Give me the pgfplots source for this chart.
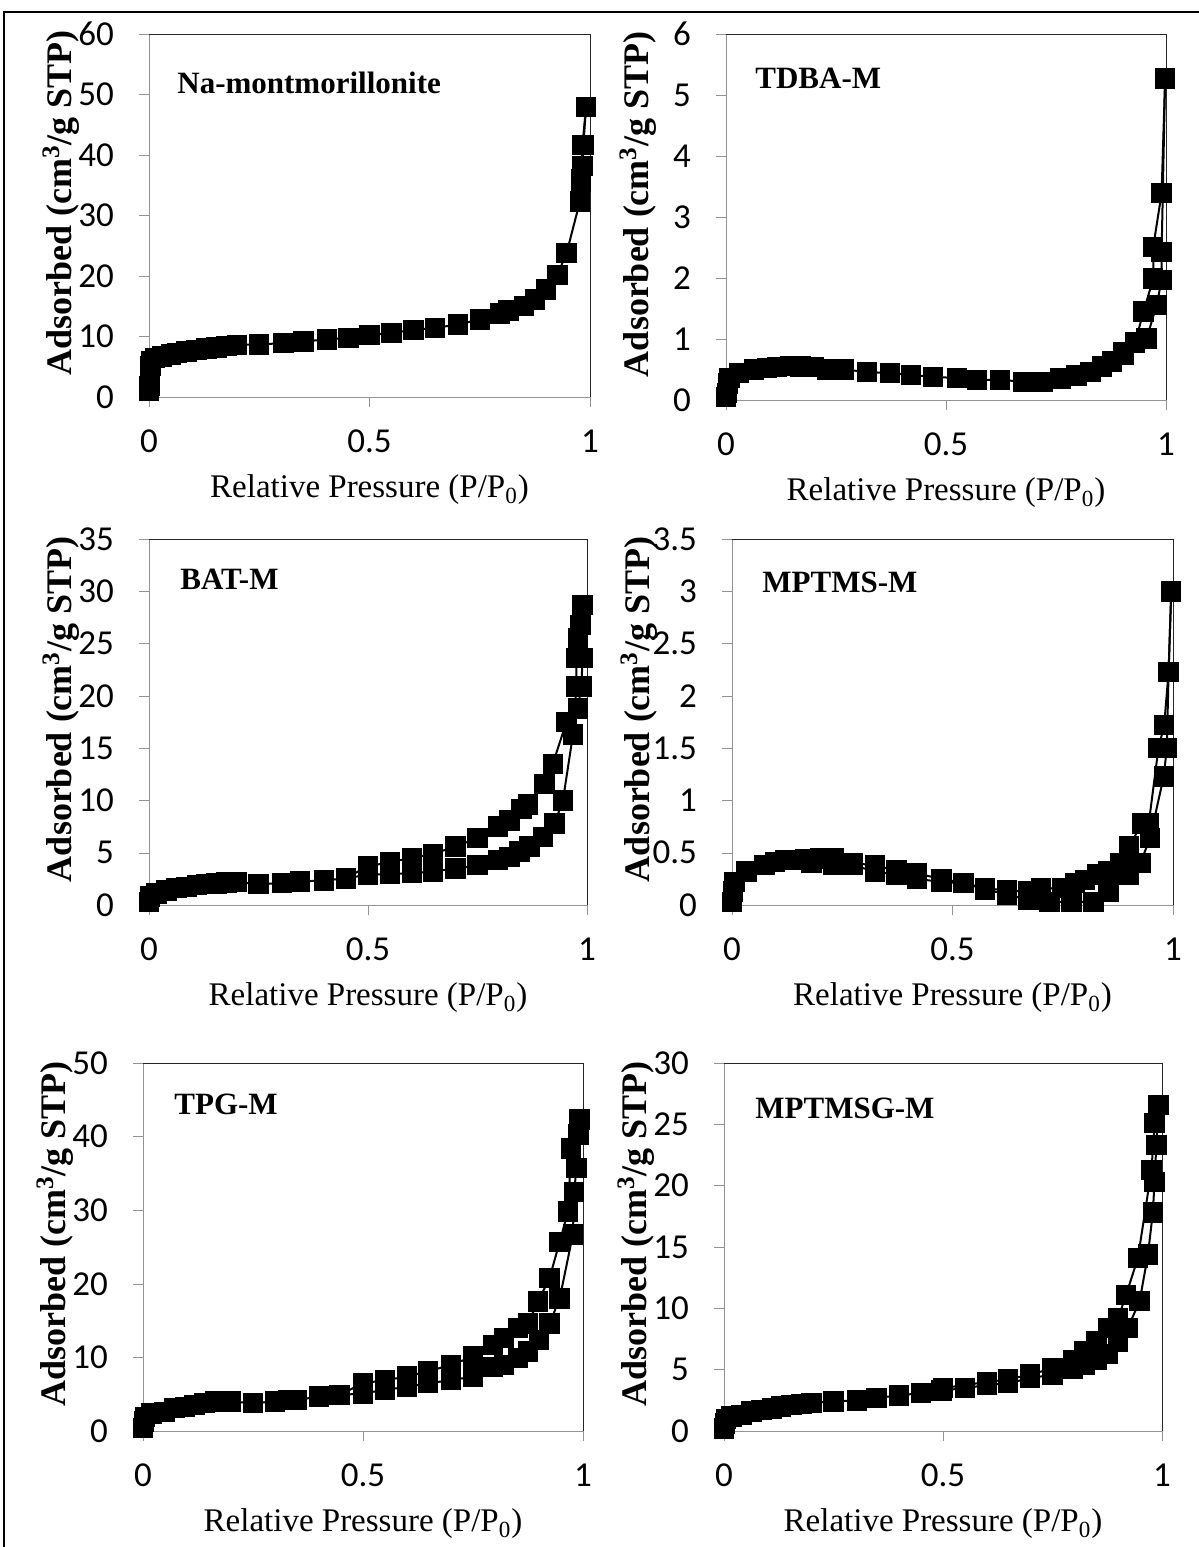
\documentclass[border=0pt]{standalone}
\usepackage{fontspec}
\setmainfont{Liberation Serif}
\newfontfamily\tickfont{Carlito}
\usepackage{pgfplots}
\pgfplotsset{compat=1.18}

\pgfplotsset{
  panel/.style={
    scale only axis,
    xmin=0, xmax=1, ymin=0,
    xtick={0,0.5,1},
    axis line style={draw=gray!85},
    tick style={draw=gray!85},
    tick align=outside,
    major tick length=5pt,
    xtick pos=bottom, ytick pos=left,
    clip=false,
    /pgf/number format/assume math mode=true,
    ticklabel style={font=\tickfont\fontsize{17.5}{20}\selectfont},
    xticklabel style={yshift=-8pt},
    yticklabel style={xshift=-9pt},
    ylabshift/.initial=44pt,
    every axis y label/.style={at={([xshift=-\pgfkeysvalueof{/pgfplots/ylabshift}]rel axis cs:0,0.535)},rotate=90,anchor=center},
    every axis x label/.style={at={([yshift=-46.5pt]rel axis cs:0.5,0)},anchor=center},
    ylabel={\bfseries\fontsize{18}{20}\selectfont Adsorbed (cm\textsuperscript{3}/g STP)},
    xlabel={\fontsize{16.5}{18}\selectfont Relative Pressure (P/P\textsubscript{0})},
    cycle list={black, line width=1pt, mark=square*, mark size=4.6pt, mark options={solid, fill=black}\\},
  },
  frame/.style={execute at end axis={\draw[black!85, line width=0.5pt] (rel axis cs:0,1) -- (rel axis cs:1,1) -- (rel axis cs:1,0);}},
}
\newcommand{\ttl}[1]{\bfseries\fontsize{15.5}{17}\selectfont #1}
\tikzset{ttlnode/.style={anchor=west, inner sep=0pt}}

\begin{document}
\begin{tikzpicture}
\useasboundingbox (0,0) rectangle (599.5pt,-773.5pt);
\draw[line width=1.1pt] (2pt,-780pt) -- (2pt,-5.8pt) -- (605pt,-5.8pt);

% Na-montmorillonite
\begin{axis}[panel, frame, at={(74.5pt,-198.5pt)}, anchor=south west,
  width=220.5pt, height=181.5pt, ymax=60, ytick distance=10]
\addplot coordinates {(0.0,1.0)(0.001,1.8)(0.002,3.4)(0.003,5.1)(0.005,6.0)(0.014,6.4)(0.03,6.7)(0.05,7.0)(0.063,7.3)(0.085,7.5)(0.108,7.8)(0.13,8.0)(0.153,8.2)(0.176,8.4)(0.2,8.6)(0.25,8.7)(0.305,8.9)(0.35,9.2)(0.403,9.5)(0.452,9.8)(0.5,10.2)(0.55,10.6)(0.6,11.1)(0.649,11.4)(0.7,12.0)(0.75,12.8)(0.796,13.8)(0.815,14.3)(0.85,15.0)(0.875,16.1)(0.9,17.8)(0.926,20.2)(0.947,23.8)(0.977,32.3)(0.979,35.6)(0.983,41.7)(0.991,47.9)};
\addplot coordinates {(0.991,47.9)(0.985,41.7)(0.983,38.2)(0.98,36.0)(0.977,32.3)};
\end{axis}
\node[ttlnode] at (88.5pt,-41.5pt) {\ttl{Na-montmorillonite}};

% TDBA-M
\begin{axis}[panel, frame, at={(363pt,-200pt)}, anchor=south west,
  width=220pt, height=183pt, ymax=6, ytick distance=1]
\addplot coordinates {(0,0.05)(0.002,0.11)(0.004,0.27)(0.008,0.36)(0.029,0.44)(0.063,0.50)(0.093,0.52)(0.116,0.54)(0.146,0.56)(0.169,0.55)(0.2,0.54)(0.23,0.50)(0.267,0.50)(0.32,0.46)(0.373,0.44)(0.42,0.41)(0.47,0.38)(0.525,0.36)(0.57,0.33)(0.623,0.33)(0.676,0.30)(0.72,0.30)(0.76,0.35)(0.797,0.40)(0.828,0.46)(0.854,0.55)(0.877,0.63)(0.903,0.74)(0.93,0.93)(0.956,1.01)(0.979,1.56)(0.99,1.97)(0.99,2.43)(0.998,5.27)};
\addplot coordinates {(0.998,5.27)(0.99,3.39)(0.971,2.51)(0.971,1.99)(0.949,1.45)(0.93,0.95)(0.903,0.78)};
\end{axis}
\node[ttlnode] at (377.5pt,-39pt) {\ttl{TDBA-M}};

% BAT-M
\begin{axis}[panel, frame, at={(74.5pt,-452.5pt)}, anchor=south west,
  width=219pt, height=183pt, ymax=35, ytick distance=5]
\addplot coordinates {(0,0.3)(0.002,0.8)(0.017,1.1)(0.04,1.4)(0.063,1.6)(0.086,1.75)(0.109,1.9)(0.13,2.0)(0.154,2.05)(0.177,2.15)(0.2,2.2)(0.25,2.0)(0.303,2.1)(0.345,2.25)(0.4,2.35)(0.45,2.55)(0.5,2.9)(0.55,2.95)(0.6,3.05)(0.649,3.2)(0.7,3.5)(0.75,3.8)(0.797,4.3)(0.823,4.6)(0.846,5.1)(0.869,5.6)(0.9,6.5)(0.926,7.8)(0.945,10.0)(0.968,16.3)(0.976,20.9)(0.976,23.6)(0.98,25.5)(0.985,26.8)(0.99,28.7)};
\addplot coordinates {(0.99,28.7)(0.99,23.6)(0.987,20.9)(0.979,18.8)(0.953,17.5)(0.922,13.5)(0.903,11.6)(0.865,9.6)(0.85,9.2)(0.823,8.1)(0.797,7.5)(0.75,6.4)(0.7,5.6)(0.649,4.9)(0.6,4.5)(0.55,4.1)(0.5,3.7)(0.45,2.6)};
\end{axis}
\node[ttlnode] at (90pt,-289.5pt) {\ttl{BAT-M}};

% MPTMS-M
\begin{axis}[panel, frame, at={(366pt,-452.5pt)}, anchor=south west,
  width=220.5pt, height=183pt, ymax=3.5, ytick distance=0.5, ylabshift=46.5pt]
\addplot coordinates {(0,0.03)(0.002,0.13)(0.006,0.22)(0.033,0.32)(0.074,0.38)(0.097,0.41)(0.12,0.43)(0.142,0.43)(0.165,0.44)(0.18,0.40)(0.2,0.44)(0.23,0.38)(0.275,0.38)(0.324,0.32)(0.373,0.29)(0.42,0.25)(0.475,0.22)(0.525,0.21)(0.574,0.15)(0.623,0.10)(0.672,0.05)(0.72,0.03)(0.77,0.03)(0.82,0.03)(0.854,0.13)(0.9,0.29)(0.926,0.40)(0.948,0.64)(0.979,1.23)(0.986,1.5)(0.99,2.23)(0.996,3.0)};
\addplot coordinates {(0.996,3.0)(0.99,2.23)(0.98,1.72)(0.967,1.5)(0.945,0.78)(0.93,0.78)(0.9,0.56)(0.88,0.40)(0.854,0.32)(0.827,0.29)(0.8,0.24)(0.778,0.21)(0.748,0.16)(0.7,0.16)(0.672,0.13)(0.623,0.14)(0.574,0.16)(0.525,0.21)(0.475,0.25)(0.42,0.30)(0.373,0.33)(0.324,0.38)(0.275,0.40)(0.23,0.45)(0.2,0.45)};
\end{axis}
\node[ttlnode] at (381pt,-291pt) {\ttl{MPTMS-M}};

% TPG-M
\begin{axis}[panel, frame, at={(71.5pt,-715.5pt)}, anchor=south west,
  width=220pt, height=184pt, ymax=50, ytick distance=10]
\addplot coordinates {(0,0.4)(0.002,1.3)(0.005,1.9)(0.019,2.4)(0.049,2.6)(0.072,3.1)(0.095,3.3)(0.117,3.5)(0.14,3.8)(0.163,4.0)(0.186,4.1)(0.2,4.0)(0.25,3.8)(0.3,4.0)(0.33,4.2)(0.35,4.2)(0.4,4.7)(0.447,4.9)(0.5,5.1)(0.55,5.6)(0.6,6.0)(0.648,6.5)(0.7,6.9)(0.75,7.4)(0.795,8.7)(0.82,9.0)(0.852,9.9)(0.875,10.8)(0.9,12.4)(0.924,14.6)(0.947,18.0)(0.977,26.7)(0.98,32.5)(0.985,35.7)(0.99,40.3)(0.992,42.3)};
\addplot coordinates {(0.992,42.3)(0.973,38.4)(0.966,29.8)(0.947,25.7)(0.924,20.8)(0.898,17.6)(0.875,14.6)(0.852,14.0)(0.82,12.6)(0.795,11.7)(0.75,10.1)(0.7,9.0)(0.648,8.1)(0.6,7.4)(0.55,6.9)(0.5,6.5)(0.447,4.9)};
\end{axis}
\node[ttlnode] at (87pt,-552pt) {\ttl{TPG-M}};

% MPTMSG-M
\begin{axis}[panel, frame, at={(362pt,-715.5pt)}, anchor=south west,
  width=219pt, height=184pt, ymax=30, ytick distance=5]
\addplot coordinates {(0,0.2)(0.002,0.6)(0.005,1.0)(0.017,1.2)(0.04,1.3)(0.063,1.6)(0.086,1.7)(0.109,1.85)(0.13,2.0)(0.154,2.1)(0.177,2.2)(0.2,2.3)(0.25,2.4)(0.303,2.5)(0.348,2.7)(0.4,2.9)(0.45,3.1)(0.497,3.3)(0.55,3.5)(0.6,3.75)(0.649,3.9)(0.698,4.3)(0.75,4.6)(0.797,5.1)(0.823,5.4)(0.85,5.8)(0.877,6.3)(0.9,7.3)(0.922,8.4)(0.949,10.6)(0.968,14.4)(0.979,17.8)(0.983,20.3)(0.987,23.3)(0.992,26.6)};
\addplot coordinates {(0.992,26.6)(0.983,25.1)(0.976,21.3)(0.945,14.1)(0.918,11.1)(0.9,9.2)(0.877,8.4)(0.85,7.3)(0.823,6.5)(0.797,5.8)(0.75,5.1)(0.698,4.6)(0.649,4.2)(0.6,4.0)(0.5,3.5)};
\end{axis}
\node[ttlnode] at (377.5pt,-554pt) {\ttl{MPTMSG-M}};
\end{tikzpicture}
\end{document}
